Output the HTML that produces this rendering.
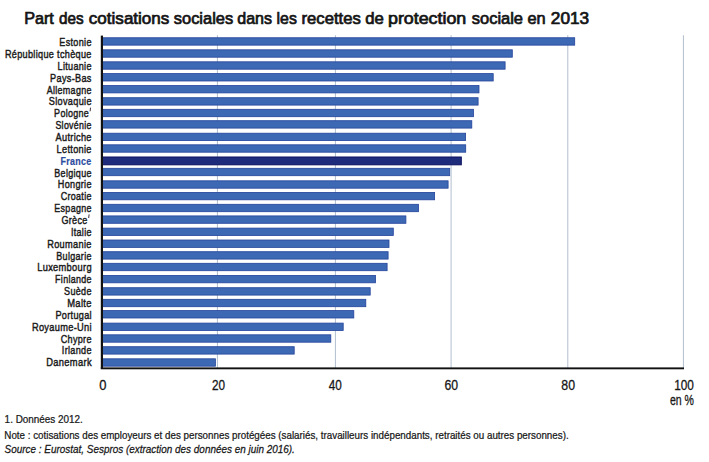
<!DOCTYPE html>
<html><head><meta charset="utf-8"><style>
html,body{margin:0;padding:0;background:#fff;width:709px;height:462px;overflow:hidden}
svg{display:block}
</style></head><body>
<svg width="709" height="462" viewBox="0 0 709 462">
<rect width="709" height="462" fill="#fff"/>

<g style='font-family:"Liberation Sans";font-weight:normal' font-size="15.7" fill="#141414" stroke="#141414" stroke-width="0.7">
<text transform="translate(24.16 23.5) scale(1.0315 1)">Part</text>
<text transform="translate(58.92 23.5) scale(0.9726 1)">des</text>
<text transform="translate(88.85 23.5) scale(1.0859 1)">cotisations</text>
<text transform="translate(173.78 23.5) scale(1.0471 1)">sociales</text>
<text transform="translate(237.29 23.5) scale(1.0214 1)">dans</text>
<text transform="translate(276.59 23.5) scale(1.0097 1)">les</text>
<text transform="translate(301.54 23.5) scale(1.0608 1)">recettes</text>
<text transform="translate(365.16 23.5) scale(1.0658 1)">de</text>
<text transform="translate(387.96 23.5) scale(1.1370 1)">protection</text>
<text transform="translate(471.78 23.5) scale(1.0493 1)">sociale</text>
<text transform="translate(527.47 23.5) scale(1.0420 1)">en</text>
<text transform="translate(550.83 23.5) scale(1.0954 1)">2013</text>
</g>
<rect x="216.90" y="35.2" width="1.0" height="333" fill="#b2bece"/>
<rect x="334.90" y="35.2" width="1.0" height="333" fill="#b2bece"/>
<rect x="450.60" y="35.2" width="1.0" height="333" fill="#b2bece"/>
<rect x="567.30" y="35.2" width="1.0" height="333" fill="#b2bece"/>
<rect x="682.90" y="35.2" width="1.0" height="333" fill="#b2bece"/>
<rect x="101.90" y="37.75" width="472.80" height="7.40" fill="#3c68b4" stroke="#23449c" stroke-width="0.8"/>
<rect x="101.90" y="49.80" width="410.40" height="7.40" fill="#3c68b4" stroke="#23449c" stroke-width="0.8"/>
<rect x="101.90" y="61.80" width="403.20" height="7.40" fill="#3c68b4" stroke="#23449c" stroke-width="0.8"/>
<rect x="101.90" y="73.60" width="391.30" height="7.40" fill="#3c68b4" stroke="#23449c" stroke-width="0.8"/>
<rect x="101.90" y="85.50" width="377.10" height="7.40" fill="#3c68b4" stroke="#23449c" stroke-width="0.8"/>
<rect x="101.90" y="97.70" width="376.20" height="7.40" fill="#3c68b4" stroke="#23449c" stroke-width="0.8"/>
<rect x="101.90" y="109.30" width="371.60" height="7.40" fill="#3c68b4" stroke="#23449c" stroke-width="0.8"/>
<rect x="101.90" y="120.70" width="369.90" height="7.40" fill="#3c68b4" stroke="#23449c" stroke-width="0.8"/>
<rect x="101.90" y="133.20" width="363.70" height="7.40" fill="#3c68b4" stroke="#23449c" stroke-width="0.8"/>
<rect x="101.90" y="144.80" width="363.80" height="7.40" fill="#3c68b4" stroke="#23449c" stroke-width="0.8"/>
<rect x="101.90" y="157.00" width="359.40" height="7.80" fill="#1f2c7c" stroke="#0a0f60" stroke-width="1.0"/>
<rect x="101.90" y="168.30" width="347.80" height="7.40" fill="#3c68b4" stroke="#23449c" stroke-width="0.8"/>
<rect x="101.90" y="180.80" width="346.20" height="7.40" fill="#3c68b4" stroke="#23449c" stroke-width="0.8"/>
<rect x="101.90" y="192.40" width="332.70" height="7.40" fill="#3c68b4" stroke="#23449c" stroke-width="0.8"/>
<rect x="101.90" y="204.30" width="316.60" height="7.40" fill="#3c68b4" stroke="#23449c" stroke-width="0.8"/>
<rect x="101.90" y="215.90" width="304.00" height="7.40" fill="#3c68b4" stroke="#23449c" stroke-width="0.8"/>
<rect x="101.90" y="228.10" width="291.40" height="7.40" fill="#3c68b4" stroke="#23449c" stroke-width="0.8"/>
<rect x="101.90" y="240.00" width="287.10" height="7.40" fill="#3c68b4" stroke="#23449c" stroke-width="0.8"/>
<rect x="101.90" y="251.70" width="286.20" height="7.40" fill="#3c68b4" stroke="#23449c" stroke-width="0.8"/>
<rect x="101.90" y="263.30" width="285.20" height="7.40" fill="#3c68b4" stroke="#23449c" stroke-width="0.8"/>
<rect x="101.90" y="275.40" width="273.60" height="7.40" fill="#3c68b4" stroke="#23449c" stroke-width="0.8"/>
<rect x="101.90" y="287.70" width="268.30" height="7.40" fill="#3c68b4" stroke="#23449c" stroke-width="0.8"/>
<rect x="101.90" y="299.30" width="263.90" height="7.40" fill="#3c68b4" stroke="#23449c" stroke-width="0.8"/>
<rect x="101.90" y="310.60" width="251.90" height="7.40" fill="#3c68b4" stroke="#23449c" stroke-width="0.8"/>
<rect x="101.90" y="323.10" width="241.30" height="7.40" fill="#3c68b4" stroke="#23449c" stroke-width="0.8"/>
<rect x="101.90" y="334.80" width="228.90" height="7.40" fill="#3c68b4" stroke="#23449c" stroke-width="0.8"/>
<rect x="101.90" y="346.70" width="192.30" height="7.40" fill="#3c68b4" stroke="#23449c" stroke-width="0.8"/>
<rect x="101.90" y="358.80" width="113.50" height="7.40" fill="#3c68b4" stroke="#23449c" stroke-width="0.8"/>
<g style='font-family:"Liberation Sans",sans-serif' font-size="11.7" letter-spacing="0.4" stroke-width="0.45">
<text transform="translate(59.30 46.10) scale(0.7772 1)" fill="#1a1a1a" stroke="#1a1a1a">Estonie</text>
<text transform="translate(4.90 57.96) scale(0.7810 1)" fill="#1a1a1a" stroke="#1a1a1a">République tchèque</text>
<text transform="translate(57.60 69.82) scale(0.7740 1)" fill="#1a1a1a" stroke="#1a1a1a">Lituanie</text>
<text transform="translate(50.10 81.68) scale(0.7807 1)" fill="#1a1a1a" stroke="#1a1a1a">Pays-Bas</text>
<text transform="translate(46.70 93.54) scale(0.7658 1)" fill="#1a1a1a" stroke="#1a1a1a">Allemagne</text>
<text transform="translate(48.81 105.40) scale(0.7820 1)" fill="#1a1a1a" stroke="#1a1a1a">Slovaquie</text>
<text transform="translate(54.11 117.26) scale(0.7648 1)" fill="#1a1a1a" stroke="#1a1a1a">Pologne</text>
<path d="M90.50 107.66 L90.10 111.26" stroke="#2a1a2a" stroke-width="0.9" fill="none"/>
<text transform="translate(55.42 129.12) scale(0.7563 1)" fill="#1a1a1a" stroke="#1a1a1a">Slovénie</text>
<text transform="translate(55.50 140.98) scale(0.7874 1)" fill="#1a1a1a" stroke="#1a1a1a">Autriche</text>
<text transform="translate(56.59 152.84) scale(0.7855 1)" fill="#1a1a1a" stroke="#1a1a1a">Lettonie</text>
<text transform="translate(60.57 164.70) scale(0.7622 1)" fill="#2b4c9e" stroke="#2b4c9e" font-weight="bold" stroke-width="0.2">France</text>
<text transform="translate(54.31 176.56) scale(0.7692 1)" fill="#1a1a1a" stroke="#1a1a1a">Belgique</text>
<text transform="translate(57.80 188.42) scale(0.7768 1)" fill="#1a1a1a" stroke="#1a1a1a">Hongrie</text>
<text transform="translate(60.72 200.28) scale(0.7671 1)" fill="#1a1a1a" stroke="#1a1a1a">Croatie</text>
<text transform="translate(54.31 212.14) scale(0.7651 1)" fill="#1a1a1a" stroke="#1a1a1a">Espagne</text>
<text transform="translate(61.41 224.00) scale(0.7765 1)" fill="#1a1a1a" stroke="#1a1a1a">Grèce</text>
<path d="M89.10 214.40 L88.70 218.00" stroke="#2a1a2a" stroke-width="0.9" fill="none"/>
<text transform="translate(70.93 235.86) scale(0.7696 1)" fill="#1a1a1a" stroke="#1a1a1a">Italie</text>
<text transform="translate(47.19 247.72) scale(0.7894 1)" fill="#1a1a1a" stroke="#1a1a1a">Roumanie</text>
<text transform="translate(56.31 259.58) scale(0.7694 1)" fill="#1a1a1a" stroke="#1a1a1a">Bulgarie</text>
<text transform="translate(37.19 271.44) scale(0.7936 1)" fill="#1a1a1a" stroke="#1a1a1a">Luxembourg</text>
<text transform="translate(55.11 283.30) scale(0.7629 1)" fill="#1a1a1a" stroke="#1a1a1a">Finlande</text>
<text transform="translate(64.11 295.16) scale(0.7727 1)" fill="#1a1a1a" stroke="#1a1a1a">Suède</text>
<text transform="translate(67.18 307.02) scale(0.8055 1)" fill="#1a1a1a" stroke="#1a1a1a">Malte</text>
<text transform="translate(55.40 318.88) scale(0.7816 1)" fill="#1a1a1a" stroke="#1a1a1a">Portugal</text>
<text transform="translate(31.89 330.74) scale(0.7913 1)" fill="#1a1a1a" stroke="#1a1a1a">Royaume-Uni</text>
<text transform="translate(60.71 342.60) scale(0.7750 1)" fill="#1a1a1a" stroke="#1a1a1a">Chypre</text>
<text transform="translate(61.82 354.46) scale(0.7773 1)" fill="#1a1a1a" stroke="#1a1a1a">Irlande</text>
<text transform="translate(46.28 366.32) scale(0.7976 1)" fill="#1a1a1a" stroke="#1a1a1a">Danemark</text>
</g>
<rect x="100.8" y="35.6" width="2.2" height="333.2" fill="#111"/>
<rect x="100.8" y="367.4" width="583.2" height="1.9" fill="#111"/>
<g style='font-family:"Liberation Sans",sans-serif' font-size="14.4" fill="#161616" stroke="#161616" stroke-width="0.3">
<text transform="translate(99.15 389.6) scale(0.9000 1)">0</text>
<text transform="translate(211.93 389.6) scale(0.8171 1)">20</text>
<text transform="translate(328.76 389.6) scale(0.8153 1)">40</text>
<text transform="translate(444.40 389.6) scale(0.8509 1)">60</text>
<text transform="translate(561.28 389.6) scale(0.8586 1)">80</text>
<text transform="translate(674.18 389.6) scale(0.8216 1)">100</text>
<text transform="translate(669.96 404.6) scale(0.7314 1)">en %</text>
</g>
<g style='font-family:"Liberation Sans",sans-serif' font-size="11.7" fill="#161616" stroke="#161616" stroke-width="0.25">
<text transform="translate(4.62 422.8) scale(0.8484 1)">1. Données 2012.</text>
<text transform="translate(4.34 438.5) scale(0.8389 1)">Note : cotisations des employeurs et des personnes protégées (salariés, travailleurs indépendants, retraités ou autres personnes).</text>
<text transform="translate(4.55 453.2) scale(0.8495 1)" font-style="italic">Source : Eurostat, Sespros (extraction des données en juin 2016).</text>
</g>
</svg></body></html>
